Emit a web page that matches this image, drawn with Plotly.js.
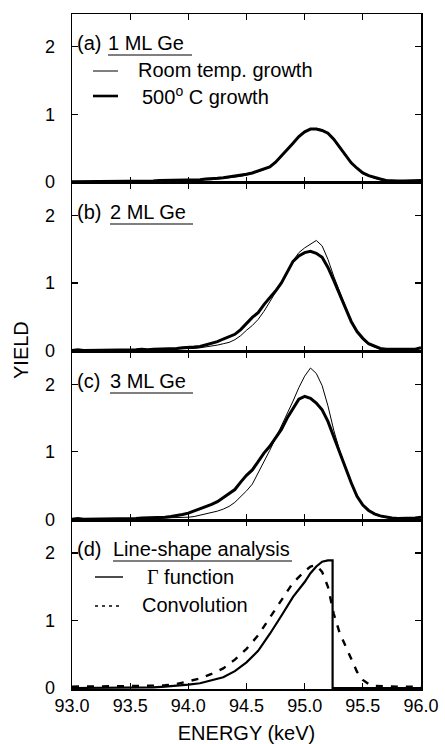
<!DOCTYPE html>
<html><head><meta charset="utf-8">
<script src="https://cdn.plot.ly/plotly-3.0.1.min.js"></script>
<style>html,body{margin:0;padding:0;background:#fff;}#chart{width:445px;height:744px;}</style>
</head><body><div id="chart"></div>
<script>
// ---- data ----
const energy = [93.00,93.05,93.10,93.15,93.20,93.25,93.30,93.35,93.40,93.45,93.50,
  93.55,93.60,93.65,93.70,93.75,93.80,93.85,93.90,93.95,94.00,
  94.05,94.10,94.15,94.20,94.25,94.30,94.35,94.40,94.45,94.50,
  94.55,94.60,94.65,94.70,94.75,94.80,94.85,94.90,94.95,95.00,
  95.05,95.10,95.15,95.20,95.25,95.30,95.35,95.40,95.45,95.50,
  95.55,95.60,95.65,95.70,95.75,95.80,95.85,95.90,95.95,96.00];

const aRoom = [0.00,0.00,0.01,0.00,0.00,0.01,0.00,0.00,0.01,0.00,0.01,
  0.01,0.01,0.01,0.02,0.02,0.02,0.02,0.02,0.03,0.02,
  0.02,0.03,0.03,0.03,0.04,0.05,0.05,0.07,0.08,0.10,
  0.12,0.15,0.18,0.22,0.28,0.37,0.47,0.58,0.67,0.74,
  0.78,0.79,0.77,0.72,0.62,0.50,0.38,0.28,0.19,0.12,
  0.08,0.05,0.03,0.02,0.01,0.01,0.01,0.00,0.01,0.02];
const aHot = [0.00,0.00,0.00,0.00,0.01,0.00,0.00,0.01,0.00,0.01,0.01,
  0.01,0.01,0.01,0.01,0.02,0.02,0.02,0.02,0.02,0.03,
  0.03,0.03,0.04,0.04,0.05,0.06,0.07,0.08,0.09,0.11,
  0.13,0.16,0.18,0.22,0.29,0.38,0.48,0.57,0.67,0.74,
  0.78,0.78,0.76,0.72,0.63,0.51,0.39,0.28,0.20,0.13,
  0.09,0.06,0.04,0.02,0.01,0.01,0.01,0.01,0.01,0.02];

const bRoom = [0.00,0.00,0.00,0.01,0.00,0.00,0.01,0.00,0.00,0.01,0.01,
  0.01,0.01,0.01,0.01,0.02,0.02,0.02,0.02,0.03,0.03,
  0.03,0.04,0.05,0.06,0.08,0.10,0.12,0.16,0.22,0.30,
  0.37,0.46,0.58,0.72,0.86,0.99,1.15,1.33,1.45,1.52,
  1.58,1.63,1.55,1.35,1.10,0.88,0.65,0.43,0.28,0.16,
  0.09,0.05,0.03,0.02,0.01,0.01,0.02,0.01,0.02,0.03];
const bHot = [0.00,0.01,0.00,0.00,0.01,0.01,0.00,0.01,0.01,0.01,0.01,
  0.01,0.02,0.01,0.02,0.02,0.02,0.03,0.03,0.04,0.04,
  0.05,0.06,0.08,0.10,0.13,0.17,0.21,0.24,0.31,0.40,
  0.49,0.56,0.68,0.78,0.88,1.00,1.16,1.32,1.40,1.45,
  1.47,1.44,1.38,1.23,1.04,0.84,0.64,0.43,0.28,0.18,
  0.10,0.06,0.03,0.02,0.02,0.01,0.02,0.02,0.02,0.04];

const cRoom = [0.00,0.00,0.01,0.00,0.00,0.01,0.00,0.01,0.00,0.01,0.01,
  0.01,0.01,0.01,0.02,0.01,0.02,0.02,0.03,0.03,0.03,
  0.04,0.06,0.07,0.09,0.12,0.15,0.19,0.25,0.33,0.42,
  0.52,0.68,0.85,1.02,1.20,1.38,1.55,1.75,1.95,2.12,
  2.24,2.16,1.98,1.68,1.32,1.02,0.78,0.56,0.34,0.20,
  0.13,0.07,0.04,0.02,0.01,0.01,0.01,0.02,0.02,0.03];
const cHot = [0.00,0.01,0.00,0.00,0.01,0.00,0.01,0.01,0.01,0.01,0.01,
  0.01,0.02,0.02,0.02,0.02,0.03,0.04,0.05,0.07,0.09,
  0.12,0.16,0.19,0.22,0.26,0.32,0.37,0.44,0.55,0.65,
  0.73,0.86,0.98,1.08,1.20,1.33,1.50,1.64,1.78,1.82,
  1.79,1.72,1.62,1.45,1.22,0.98,0.78,0.54,0.34,0.21,
  0.13,0.08,0.05,0.03,0.02,0.01,0.01,0.02,0.02,0.03];

const gammaE = [93.0,93.5,93.7,93.8,93.9,94.0,94.1,94.2,94.3,94.4,94.5,94.6,94.7,94.8,94.9,95.0,95.05,95.1,95.15,95.2,95.24,95.24,96.0];
const gammaY = [0,0,0.01,0.02,0.03,0.05,0.07,0.11,0.16,0.25,0.38,0.55,0.80,1.07,1.35,1.57,1.70,1.80,1.87,1.89,1.89,0,0];

const convE = [93.0,93.2,93.4,93.6,93.8,93.9,94.0,94.1,94.2,94.3,94.4,94.5,94.6,94.7,94.8,94.9,95.0,95.05,95.1,95.15,95.2,95.25,95.3,95.35,95.4,95.45,95.5,95.55,95.6,95.7,95.8,96.0];
const convY = [0.02,0.02,0.02,0.03,0.04,0.06,0.10,0.14,0.21,0.29,0.42,0.58,0.78,1.04,1.30,1.56,1.73,1.80,1.82,1.72,1.50,1.10,0.82,0.62,0.42,0.24,0.12,0.06,0.03,0.02,0.02,0.02];

const xTicks = [93.0,93.5,94.0,94.5,95.0,95.5,96.0];
const yTicks = [0,1,2];
const panelLabels = ['(a)','(b)','(c)','(d)'];
const panelTitles = ['1 ML Ge','2 ML Ge','3 ML Ge','Line-shape analysis'];
const legendA = ['Room temp. growth','500<sup>o</sup> C growth'];
const legendD = ['<span style="font-family:Liberation Serif">Γ</span> function','Convolution'];

// ---- layout helpers (pixel -> paper) ----
const W=445, H=744, L=72, R=421, T=14, B=689;
const fx = p => (p-L)/(R-L);
const fy = p => (B-p)/(B-T);
const FONT = 'Liberation Sans, Arial, sans-serif';

const thin = {color:'#000', width:1};
const thick = {color:'#000', width:3};

const traces = [
  {x:energy, y:aRoom, xaxis:'x', yaxis:'y', mode:'lines', line:thin, name:legendA[0]},
  {x:energy, y:aHot, xaxis:'x', yaxis:'y', mode:'lines', line:thick, name:legendA[1]},
  {x:energy, y:bRoom, xaxis:'x2', yaxis:'y2', mode:'lines', line:thin},
  {x:energy, y:bHot, xaxis:'x2', yaxis:'y2', mode:'lines', line:thick},
  {x:energy, y:cRoom, xaxis:'x3', yaxis:'y3', mode:'lines', line:thin},
  {x:energy, y:cHot, xaxis:'x3', yaxis:'y3', mode:'lines', line:thick},
  {x:gammaE, y:gammaY, xaxis:'x4', yaxis:'y4', mode:'lines', line:{color:'#000', width:2.2}},
  {x:convE, y:convY, xaxis:'x4', yaxis:'y4', mode:'lines', line:{color:'#000', width:2.4, dash:'7px,8px'}}
];

function xa(anchor, last){
  const o = {anchor:anchor, range:[93,96], tickvals:xTicks, ticks:'inside', ticklen:6, tickwidth:1.2,
    tickcolor:'#000', showline:true, linecolor:'#000', linewidth:1.5, mirror:'ticks',
    showgrid:false, zeroline:false, showticklabels:!!last, tickformat:'.1f',
    tickfont:{family:FONT, size:18, color:'#000'}};
  if(last){ o.title = {text:'ENERGY (keV)', font:{family:FONT, size:20, color:'#000'}, standoff:12}; }
  return o;
}
function ya(anchor, dom){
  return {anchor:anchor, domain:dom, range:[-0.015,2.485], tickvals:yTicks, ticks:'inside', ticklen:6,
    tickwidth:1.2, tickcolor:'#000', showline:true, linecolor:'#000', linewidth:1.5, mirror:'ticks',
    showgrid:false, zeroline:false, ticklabelstandoff:12,
    tickfont:{family:FONT, size:18, color:'#000'}};
}

const tops = [14, 183, 352, 520];
const ann = [];
const shapes = [];
const labelOff = 29;
const titleX = [108,110,110,113];
const ulEnd = [192,193,193,292];
tops.forEach((t,i)=>{
  const yc = t + labelOff;
  ann.push({text:panelLabels[i], x:fx(75), y:fy(yc), xanchor:'left', yanchor:'middle'});
  ann.push({text:panelTitles[i], x:fx(titleX[i]-2), y:fy(yc), xanchor:'left', yanchor:'middle'});
  shapes.push({type:'line', xref:'paper', yref:'paper', x0:fx(titleX[i]), x1:fx(ulEnd[i]), y0:fy(yc+12), y1:fy(yc+12), line:{color:'#000', width:1.2}});
});
ann.push({text:legendA[0], x:fx(136), y:fy(70), xanchor:'left', yanchor:'middle'});
ann.push({text:legendA[1], x:fx(140), y:fy(95), xanchor:'left', yanchor:'middle'});
shapes.push({type:'line', xref:'paper', yref:'paper', x0:fx(93), x1:fx(118), y0:fy(71), y1:fy(71), line:{color:'#000', width:1}});
shapes.push({type:'line', xref:'paper', yref:'paper', x0:fx(93), x1:fx(118), y0:fy(96), y1:fy(96), line:{color:'#000', width:2.6}});
ann.push({text:legendD[0], x:fx(145), y:fy(577), xanchor:'left', yanchor:'middle'});
ann.push({text:legendD[1], x:fx(140), y:fy(605), xanchor:'left', yanchor:'middle'});
shapes.push({type:'line', xref:'paper', yref:'paper', x0:fx(95), x1:fx(123), y0:fy(577), y1:fy(577), line:{color:'#000', width:1.4}});
shapes.push({type:'line', xref:'paper', yref:'paper', x0:fx(95), x1:fx(123), y0:fy(606), y1:fy(606), line:{color:'#000', width:1.4, dash:'3px,4px'}});
ann.push({text:'YIELD', x:fx(21), y:fy(350), xanchor:'center', yanchor:'middle', textangle:-90});

ann.forEach(a=>{ a.xref='paper'; a.yref='paper'; a.showarrow=false; a.font={family:FONT, size:20, color:'#000'}; });

const layout = {
  width:W, height:H, margin:{l:L, r:W-R, t:T, b:H-B}, showlegend:false,
  paper_bgcolor:'#fff', plot_bgcolor:'#fff', font:{family:FONT, color:'#000'},
  xaxis: xa('y'), xaxis2: xa('y2'), xaxis3: xa('y3'), xaxis4: xa('y4', true),
  yaxis: ya('x', [0.75,1]), yaxis2: ya('x2', [0.5,0.75]), yaxis3: ya('x3', [0.25,0.5]), yaxis4: ya('x4', [0,0.25]),
  annotations: ann, shapes: shapes
};

Plotly.newPlot('chart', traces, layout, {staticPlot:true, displayModeBar:false});
</script>
</body></html>
